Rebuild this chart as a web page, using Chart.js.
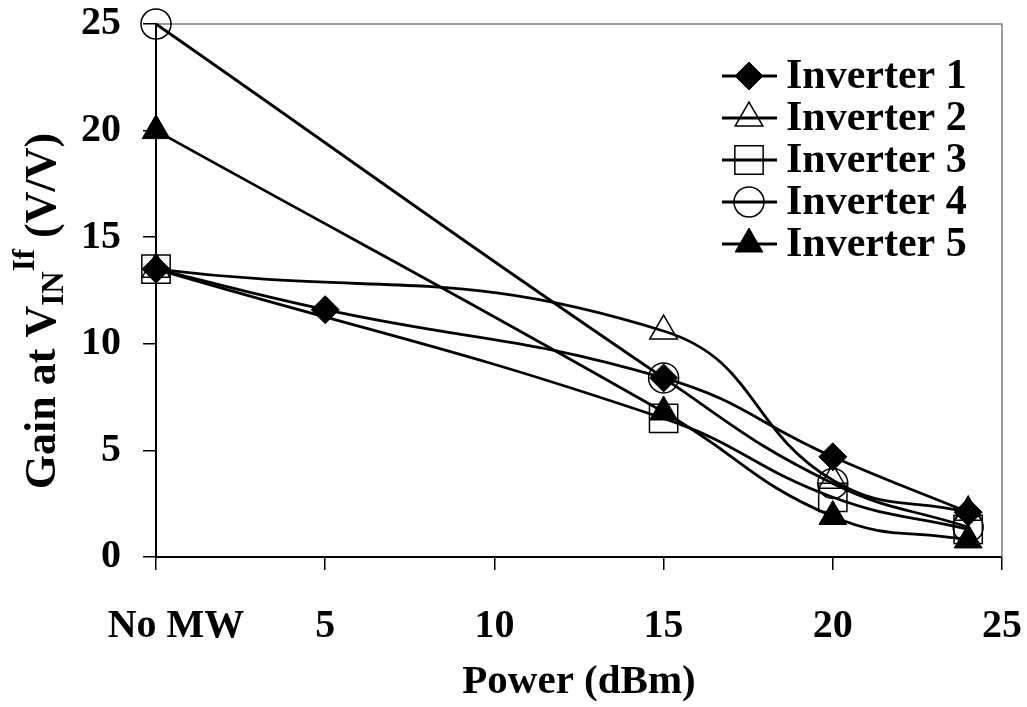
<!DOCTYPE html>
<html>
<head>
<meta charset="utf-8">
<title>Gain vs microwave power</title>
<script src="https://cdn.jsdelivr.net/npm/chart.js"></script>
<style>
  html, body { margin: 0; padding: 0; background: #fff; }
  canvas { display: block; }
</style>
</head>
<body>
<canvas id="gainChart" width="1027" height="707"></canvas>
<script>
// measured gain per inverter; inverter 1 also has a 5 dBm point
const seriesNames = ['Inverter 1', 'Inverter 2', 'Inverter 3', 'Inverter 4', 'Inverter 5'];
const powerInv1 = [0, 5, 15, 20, 24];
const powerOther = [0, 15, 20, 24];
const gainInv1 = [13.5, 11.6, 8.4, 4.7, 2.1];
const gainInv2 = [13.5, 10.6, 3.6, 2.1];
const gainInv3 = [13.5, 6.5, 2.8, 1.3];
const gainInv4 = [25, 8.4, 3.45, 1.4];
const gainInv5 = [20, 6.8, 1.9, 0.8];
const xTickLabels = ['\u2003No MW', '5', '10', '15', '20', '25'];
const yTickValues = [0, 5, 10, 15, 20, 25];

const FONT = '"Liberation Serif", "Times New Roman", Times, serif';

function toPoints(xs, ys) {
  return xs.map((x, i) => ({ x: x, y: ys[i] }));
}

// marker look for each series
const markers = [
  { style: 'rectRot', radius: 14, fill: '#000', border: 1 },
  { style: 'triangle', radius: 16, fill: 'rgba(0,0,0,0)', border: 1.5 },
  { style: 'rect', radius: 20, fill: 'rgba(0,0,0,0)', border: 1.5 },
  { style: 'circle', radius: 15, fill: 'rgba(0,0,0,0)', border: 1.5 },
  { style: 'triangle', radius: 16, fill: '#000', border: 1 }
];

const seriesData = [
  toPoints(powerInv1, gainInv1),
  toPoints(powerOther, gainInv2),
  toPoints(powerOther, gainInv3),
  toPoints(powerOther, gainInv4),
  toPoints(powerOther, gainInv5)
];

const datasets = seriesNames.map((name, i) => ({
  label: name,
  data: seriesData[i],
  borderColor: '#000',
  borderWidth: 2.8,
  tension: 0.45,
  fill: false,
  clip: false,
  pointStyle: markers[i].style,
  pointRadius: markers[i].radius,
  pointBackgroundColor: markers[i].fill,
  pointBorderColor: '#000',
  pointBorderWidth: markers[i].border
}));

// grey frame on the top and right of the plot area
const frame = {
  id: 'frame',
  beforeDatasetsDraw(chart) {
    const { ctx, chartArea: a } = chart;
    ctx.save();
    ctx.strokeStyle = '#808080';
    ctx.lineWidth = 1.5;
    ctx.beginPath();
    ctx.moveTo(a.left, a.top);
    ctx.lineTo(a.right, a.top);
    ctx.lineTo(a.right, a.bottom);
    ctx.stroke();
    ctx.restore();
  }
};

function drawMarker(ctx, m, x, y) {
  const r = m.radius;
  ctx.beginPath();
  if (m.style === 'rectRot') {
    ctx.moveTo(x, y - r); ctx.lineTo(x + r, y); ctx.lineTo(x, y + r); ctx.lineTo(x - r, y);
    ctx.closePath();
  } else if (m.style === 'triangle') {
    const h = r * Math.sqrt(3) / 2;
    ctx.moveTo(x, y - r); ctx.lineTo(x + h, y + r / 2); ctx.lineTo(x - h, y + r / 2);
    ctx.closePath();
  } else if (m.style === 'rect') {
    const s = r * Math.SQRT1_2;
    ctx.rect(x - s, y - s, 2 * s, 2 * s);
  } else {
    ctx.arc(x, y, r, 0, Math.PI * 2);
  }
  ctx.fillStyle = m.fill;
  ctx.fill();
  ctx.lineWidth = m.border;
  ctx.strokeStyle = '#000';
  ctx.stroke();
}

// legend with a line through each marker, top right inside the plot
const lineLegend = {
  id: 'lineLegend',
  afterDraw(chart) {
    const { ctx } = chart;
    ctx.save();
    ctx.font = 'bold 42px ' + FONT;
    ctx.textBaseline = 'middle';
    ctx.textAlign = 'left';
    seriesNames.forEach((name, i) => {
      const y = 76 + i * 42;
      ctx.strokeStyle = '#000';
      ctx.lineWidth = 2.8;
      ctx.beginPath();
      ctx.moveTo(722, y);
      ctx.lineTo(777, y);
      ctx.stroke();
      drawMarker(ctx, markers[i], 749, y);
      ctx.fillStyle = '#000';
      ctx.fillText(name, 786, y + 1);
    });
    ctx.restore();
  }
};

// rotated y title with subscript and superscript
const yTitle = {
  id: 'yTitle',
  afterDraw(chart) {
    const { ctx } = chart;
    const parts = [
      { t: 'Gain at V', size: 44, dy: 0 },
      { t: 'IN', size: 31, dy: 8 },
      { t: 'If', size: 31, dy: -21 },
      { t: ' (V/V)', size: 44, dy: 0 }
    ];
    ctx.save();
    let total = 0;
    parts.forEach(p => {
      ctx.font = 'bold ' + p.size + 'px ' + FONT;
      p.w = ctx.measureText(p.t).width;
      total += p.w;
    });
    ctx.translate(55, 311);
    ctx.rotate(-Math.PI / 2);
    ctx.fillStyle = '#000';
    ctx.textBaseline = 'alphabetic';
    ctx.textAlign = 'left';
    let x = -total / 2;
    parts.forEach(p => {
      ctx.font = 'bold ' + p.size + 'px ' + FONT;
      ctx.fillText(p.t, x, p.dy);
      x += p.w;
    });
    ctx.restore();
  }
};

// let layout.padding alone decide the space around the plot area
function noLabelPadding(scale) {
  scale.paddingTop = 0;
  scale.paddingBottom = 0;
  scale.paddingLeft = 0;
  scale.paddingRight = 0;
}

const ctx = document.getElementById('gainChart').getContext('2d');
const gainChart = new Chart(ctx, {
  type: 'line',
  data: { datasets: datasets },
  options: {
    responsive: false,
    animation: false,
    layout: { padding: { left: 0, top: 24, right: 25, bottom: 0 } },
    plugins: {
      legend: { display: false },
      tooltip: { enabled: false }
    },
    scales: {
      x: {
        type: 'linear',
        min: 0,
        max: 25,
        afterBuildTicks: (scale) => { scale.ticks = yTickValues.map(v => ({ value: v })); },
        ticks: {
          color: '#000',
          font: { family: FONT, size: 40, weight: 'bold' },
          padding: 33,
          maxRotation: 0,
          autoSkip: false,
          callback: (value, index) => xTickLabels[index]
        },
        grid: { drawOnChartArea: false, drawTicks: true, tickLength: 13, color: '#000', lineWidth: 1.5 },
        border: { color: '#000', width: 2 },
        title: {
          display: true,
          text: 'Power (dBm)',
          color: '#000',
          font: { family: FONT, size: 41, weight: 'bold' },
          padding: { top: 0, bottom: 0 }
        },
        afterFit: (scale) => { scale.height = 150; noLabelPadding(scale); }
      },
      y: {
        type: 'linear',
        min: 0,
        max: 25,
        afterBuildTicks: (scale) => { scale.ticks = yTickValues.map(v => ({ value: v })); },
        ticks: {
          color: '#000',
          font: { family: FONT, size: 40, weight: 'bold' },
          padding: 22
        },
        grid: { drawOnChartArea: false, drawTicks: true, tickLength: 13, color: '#000', lineWidth: 1.5 },
        border: { color: '#000', width: 2 },
        afterFit: (scale) => { scale.width = 156; noLabelPadding(scale); }
      }
    }
  },
  plugins: [frame, lineLegend, yTitle]
});
</script>
</body>
</html>
